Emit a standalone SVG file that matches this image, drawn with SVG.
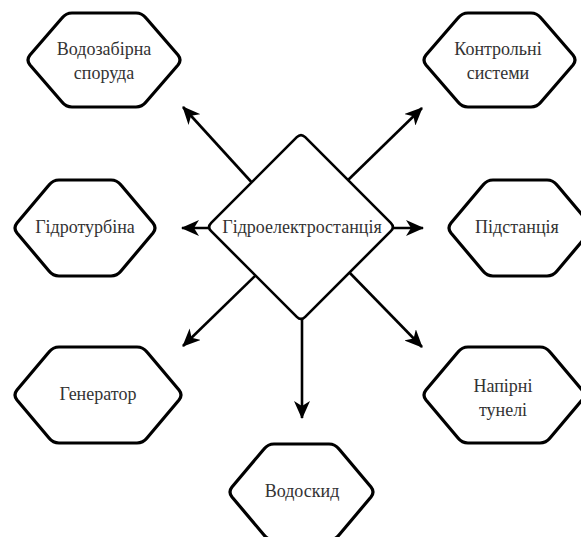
<svg xmlns="http://www.w3.org/2000/svg" width="581" height="537" viewBox="0 0 581 537">
<style>
.hex{fill:#fff;stroke:#000;stroke-width:3.2;stroke-linejoin:round}
.dia{fill:#fff;stroke:#000;stroke-width:2.6;stroke-linejoin:round}
text{font-family:'Liberation Serif','Times New Roman','DejaVu Serif',serif;font-size:18px;fill:#333;text-anchor:middle}
.con line{stroke:#000;stroke-width:2.6;marker-end:url(#ah)}
</style>
<defs>
<marker id="ah" markerUnits="userSpaceOnUse" markerWidth="18" markerHeight="16" viewBox="0 0 18 16" refX="17" refY="8" orient="auto">
<path d="M0,0 L18,8 L0,16 L5,8 Z" fill="#000"/>
</marker>
</defs>
<rect width="581" height="537" fill="#fff"/>
<g id="connectors" class="con">
<line x1="255" y1="186" x2="183" y2="107"/>
<line x1="345" y1="183" x2="422" y2="108"/>
<line x1="215" y1="228" x2="182" y2="228"/>
<line x1="390" y1="228" x2="423" y2="228"/>
<line x1="258" y1="273" x2="183" y2="346"/>
<line x1="347" y1="270" x2="422" y2="347"/>
<line x1="302" y1="312" x2="302" y2="418"/>
</g>
<g id="hydro">
<path class="dia" d="M296.8,137.2 Q301,133 305.2,137.2 L390.8,222.8 Q395,227 390.8,231.2 L305.2,316.8 Q301,321 296.8,316.8 L211.2,231.2 Q207,227 211.2,222.8 Z"/>
<text x="302" y="233">Гідроелектростанція</text>
</g>
<g id="intake">
<path class="hex" d="M30,55 L62,18 Q66,13 72,13 L136,13 Q142,13 146,18 L178,55 Q182,60 178,65 L146,102 Q142,107 136,107 L72,107 Q66,107 62,102 L30,65 Q26,60 30,55Z"/>
<text x="104" y="55">Водозабірна</text>
<text x="104" y="79">споруда</text>
</g>
<g id="control">
<path class="hex" d="M426,55 L458,18 Q462,13 468,13 L531,13 Q537,13 541,18 L573,55 Q577,60 573,65 L541,102 Q537,107 531,107 L468,107 Q462,107 458,102 L426,65 Q422,60 426,55Z"/>
<text x="498" y="55">Контрольні</text>
<text x="498" y="79">системи</text>
</g>
<g id="turbine">
<path class="hex" d="M17,223 L49,185 Q53,180 59,180 L111,180 Q117,180 121,185 L153,223 Q157,228 153,233 L121,271 Q117,276 111,276 L59,276 Q53,276 49,271 L17,233 Q13,228 17,223Z"/>
<text x="85" y="233">Гідротурбіна</text>
</g>
<g id="substation">
<path class="hex" d="M451,223 L483,185 Q487,180 493,180 L547,180 Q553,180 557,185 L589,223 Q593,228 589,233 L557,271 Q553,276 547,276 L493,276 Q487,276 483,271 L451,233 Q447,228 451,223Z"/>
<text x="517" y="233">Підстанція</text>
</g>
<g id="generator">
<path class="hex" d="M17,390 L49,352 Q53,347 59,347 L137,347 Q143,347 147,352 L179,390 Q183,395 179,400 L147,438 Q143,443 137,443 L59,443 Q53,443 49,438 L17,400 Q13,395 17,390Z"/>
<text x="98" y="400">Генератор</text>
</g>
<g id="tunnels">
<path class="hex" d="M426,390 L458,352 Q462,347 468,347 L540,347 Q546,347 550,352 L582,390 Q586,395 582,400 L550,438 Q546,443 540,443 L468,443 Q462,443 458,438 L426,400 Q422,395 426,390Z"/>
<text x="503" y="392">Напірні</text>
<text x="503" y="416">тунелі</text>
</g>
<g id="spillway">
<path class="hex" d="M232,487 L264,449 Q268,444 274,444 L329,444 Q335,444 339,449 L371,487 Q375,492 371,497 L339,535 Q335,540 329,540 L274,540 Q268,540 264,535 L232,497 Q228,492 232,487Z"/>
<text x="302" y="497">Водоскид</text>
</g>
</svg>
